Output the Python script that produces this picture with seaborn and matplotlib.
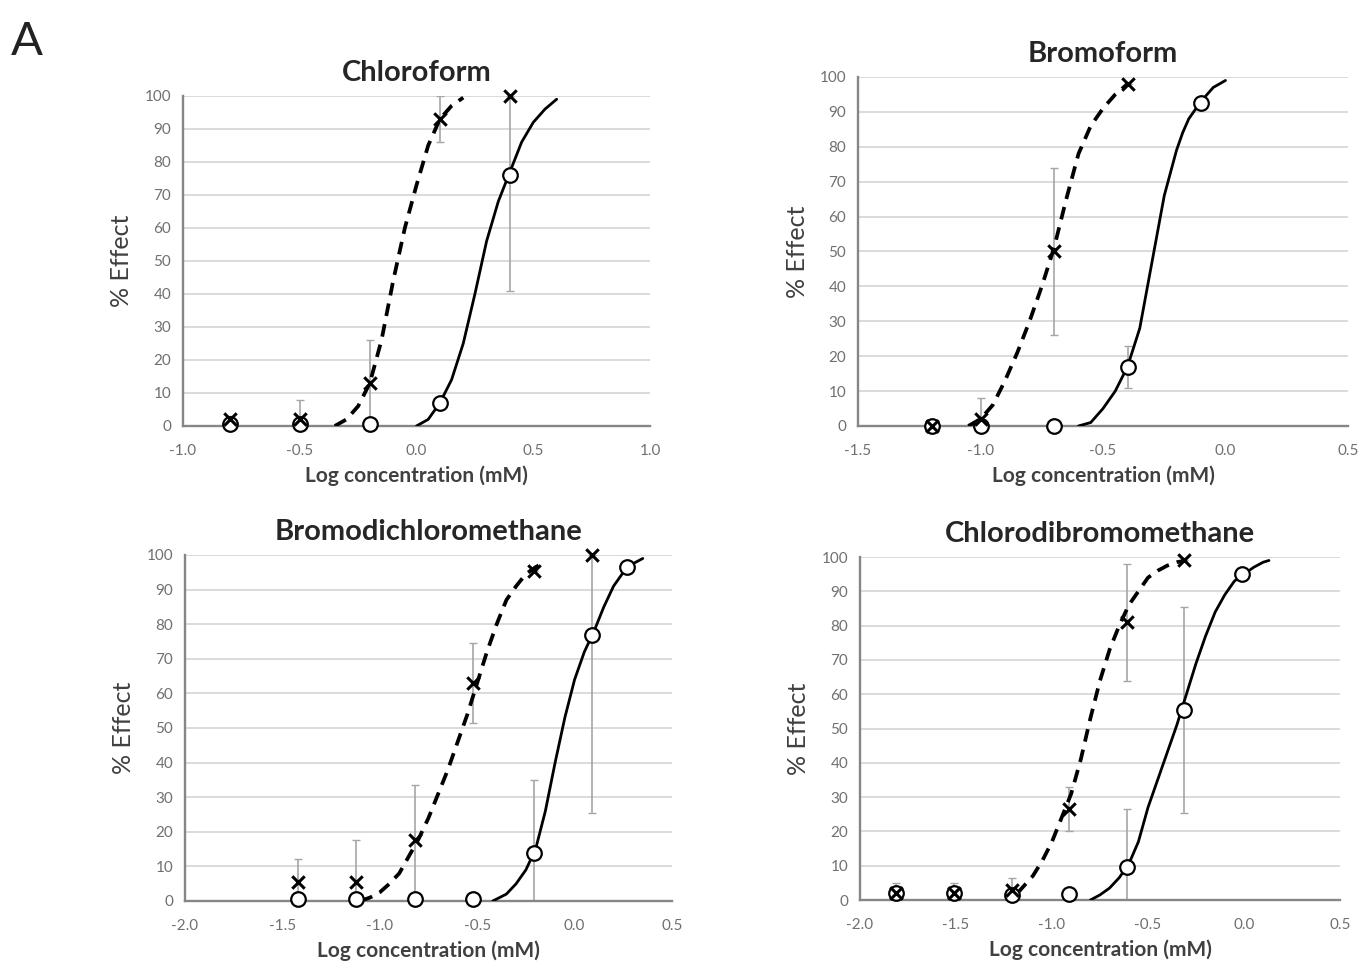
import matplotlib
matplotlib.use("Agg")
import matplotlib.pyplot as plt
import matplotlib.ticker as mticker
import seaborn as sns

# ---- data ----
# Chloroform
chl_x = [-0.8, -0.5, -0.2, 0.1, 0.4]
chl_cross = [2, 2, 13, 93, 100]
chl_cross_err = [1, 6, 13, 7, 0]
chl_circ = [0.5, 0.5, 0.5, 7, 76]
chl_circ_err = [0, 0, 0, 0, 35]
chl_dash_x = [-0.35, -0.3, -0.25, -0.2, -0.15, -0.1, -0.05, 0.0, 0.05, 0.1, 0.15, 0.2]
chl_dash_y = [0, 2, 6, 13, 26, 44, 60, 73, 85, 93, 97, 99.5]
chl_solid_x = [0.0, 0.05, 0.1, 0.15, 0.2, 0.25, 0.3, 0.35, 0.4, 0.45, 0.5, 0.55, 0.6]
chl_solid_y = [0, 2, 7, 14, 25, 40, 56, 68, 77, 86, 92, 96, 99]

# Bromoform
bro_x = [-1.2, -1.0, -0.7, -0.4, -0.1]
bro_cross = [0, 2, 50, 98, None]
bro_cross_err = [0, 6, 24, 0, 0]
bro_circ = [0, 0, 0, 17, 92.5]
bro_circ_err = [0, 0, 0, 6, 0]
bro_dash_x = [-1.05, -1.0, -0.95, -0.9, -0.85, -0.8, -0.75, -0.7, -0.65, -0.6, -0.55, -0.5, -0.45, -0.4]
bro_dash_y = [0, 2, 6, 13, 21, 30, 40, 51, 65, 78, 86, 91, 95, 98]
bro_solid_x = [-0.6, -0.55, -0.5, -0.45, -0.4, -0.35, -0.3, -0.25, -0.2, -0.175, -0.15, -0.1, -0.05, 0.0]
bro_solid_y = [0, 1, 5, 10, 17, 28, 47, 66, 79, 84, 88, 93, 97, 99]

# Bromodichloromethane
bdcm_x = [-1.42, -1.12, -0.82, -0.52, -0.21, 0.09, 0.27]
bdcm_cross = [5.5, 5.5, 17.5, 63, 95.5, 100, None]
bdcm_cross_err = [6.5, 12, 16, 11.5, 0, 0, 0]
bdcm_circ = [0.5, 0.5, 0.5, 0.5, 14, 77, 96.5]
bdcm_circ_err = [0, 0, 0, 0, 21, 51.5, 0]
bdcm_dash_x = [-1.1, -1.05, -1.0, -0.95, -0.9, -0.85, -0.8, -0.75, -0.7, -0.65,
               -0.6, -0.55, -0.5, -0.45, -0.4, -0.35, -0.3, -0.25, -0.2, -0.15]
bdcm_dash_y = [0, 1, 2.5, 5, 8, 13, 18, 24, 31, 38, 46, 54, 63, 72, 80, 87, 91, 94.5, 96.5, 98]
bdcm_solid_x = [-0.42, -0.35, -0.3, -0.25, -0.2, -0.15, -0.1, -0.05, 0.0, 0.05,
                0.1, 0.15, 0.2, 0.25, 0.3, 0.35]
bdcm_solid_y = [0, 2, 5, 9, 15, 26, 40, 53, 64, 72, 78, 85, 91, 95, 97.5, 99]

# Chlorodibromomethane
cdbm_x = [-1.81, -1.51, -1.21, -0.91, -0.61, -0.31, -0.01]
cdbm_cross = [2, 2, 3, 26.5, 81, 99, None]
cdbm_cross_err = [3, 3, 3.5, 6.5, 17, 0, 0]
cdbm_circ = [2, 2, 1.5, 1.8, 9.5, 55.5, 95]
cdbm_circ_err = [0, 0, 0, 0, 17, 30, 0]
cdbm_dash_x = [-1.18, -1.1, -1.05, -1.0, -0.95, -0.9, -0.85, -0.8, -0.75, -0.7,
               -0.65, -0.6, -0.55, -0.5, -0.45, -0.4, -0.35, -0.3]
cdbm_dash_y = [2, 7, 11.5, 17, 24, 31, 41, 53, 64, 73, 80, 86, 90, 94, 96, 97.5, 98.5, 99]
cdbm_solid_x = [-0.8, -0.75, -0.7, -0.65, -0.6, -0.55, -0.5, -0.45, -0.4, -0.35,
                -0.3, -0.25, -0.2, -0.15, -0.1, -0.05, 0.0, 0.05, 0.1, 0.13]
cdbm_solid_y = [0, 1.5, 3.5, 6.5, 10.5, 17, 27, 35, 43, 51, 60, 69, 77, 84, 89, 93, 95, 97, 98.5, 99]

panels = [
    ("Chloroform", (-1.0, 1.0), chl_x, chl_cross, chl_cross_err, chl_circ, chl_circ_err,
     chl_dash_x, chl_dash_y, chl_solid_x, chl_solid_y),
    ("Bromoform", (-1.5, 0.5), bro_x, bro_cross, bro_cross_err, bro_circ, bro_circ_err,
     bro_dash_x, bro_dash_y, bro_solid_x, bro_solid_y),
    ("Bromodichloromethane", (-2.0, 0.5), bdcm_x, bdcm_cross, bdcm_cross_err, bdcm_circ, bdcm_circ_err,
     bdcm_dash_x, bdcm_dash_y, bdcm_solid_x, bdcm_solid_y),
    ("Chlorodibromomethane", (-2.0, 0.5), cdbm_x, cdbm_cross, cdbm_cross_err, cdbm_circ, cdbm_circ_err,
     cdbm_dash_x, cdbm_dash_y, cdbm_solid_x, cdbm_solid_y),
]

# axes rectangles (figure fractions)
rects = [
    [0.1334, 0.5622, 0.3404, 0.3392],
    [0.6254, 0.5622, 0.3571, 0.3587],
    [0.1348, 0.0740, 0.3550, 0.3556],
    [0.6268, 0.0750, 0.3499, 0.3525],
]

sns.set_style("white")
plt.rcParams['font.family'] = ['Lato', 'DejaVu Sans']
plt.rcParams['axes.unicode_minus'] = False

fig = plt.figure(figsize=(13.72, 9.73), dpi=100)
fig.text(0.008, 0.957, "A", fontsize=34, color='#222222', va='center')

axis_grey = '#868686'
for rect, (title, xlim, x, cross, cross_err, circ, circ_err, dx, dy, sx, sy) in zip(rects, panels):
    ax = fig.add_axes(rect)
    ax.set_xlim(*xlim)
    ax.set_ylim(0, 100)
    ax.yaxis.set_major_locator(mticker.MultipleLocator(10))
    ax.xaxis.set_major_locator(mticker.MultipleLocator(0.5))
    ax.xaxis.set_major_formatter(mticker.FormatStrFormatter('%.1f'))
    ax.grid(axis='y', color='#d4d4d4', linewidth=1.2)
    ax.set_axisbelow(True)
    for s in ['top', 'right']:
        ax.spines[s].set_visible(False)
    for s in ['left', 'bottom']:
        ax.spines[s].set_color(axis_grey)
        ax.spines[s].set_linewidth(1.7)
    ax.tick_params(axis='both', colors=axis_grey, labelcolor='#707070', labelsize=11,
                   length=5, width=1.2, direction='out')
    ax.tick_params(axis='x', pad=8)

    # error bars
    cx = [xi for xi, c in zip(x, cross) if c is not None]
    cy = [c for c in cross if c is not None]
    ce = [e for e, c in zip(cross_err, cross) if c is not None]
    ax.errorbar(cx, cy, yerr=ce, fmt='none', ecolor='#a6a6a6', elinewidth=1.2, capsize=3, zorder=2)
    ax.errorbar(x, circ, yerr=circ_err, fmt='none', ecolor='#a6a6a6', elinewidth=1.2, capsize=3, zorder=2)

    # fitted curves
    sns.lineplot(x=dx, y=dy, ax=ax, color='black', linewidth=2.7, linestyle=(0, (3.4, 2.2)),
                 sort=False, estimator=None, zorder=3)
    sns.lineplot(x=sx, y=sy, ax=ax, color='black', linewidth=2.0,
                 sort=False, estimator=None, zorder=3)

    # data points
    sns.scatterplot(x=x, y=circ, ax=ax, marker='o', facecolor='white', edgecolor='black',
                    s=110, linewidth=1.6, zorder=5, clip_on=False)
    sns.scatterplot(x=cx, y=cy, ax=ax, marker='x', color='black', s=80, linewidth=2.2,
                    zorder=6, clip_on=False)

    ax.set_title(title, fontsize=21, fontweight='bold', color='#262626', pad=11)
    ax.set_xlabel("Log concentration (mM)", fontsize=15, fontweight='bold', color='#404040', labelpad=5)
    ax.set_ylabel("% Effect", fontsize=18, color='#404040', labelpad=8)

fig.savefig("out.png", dpi=100)
